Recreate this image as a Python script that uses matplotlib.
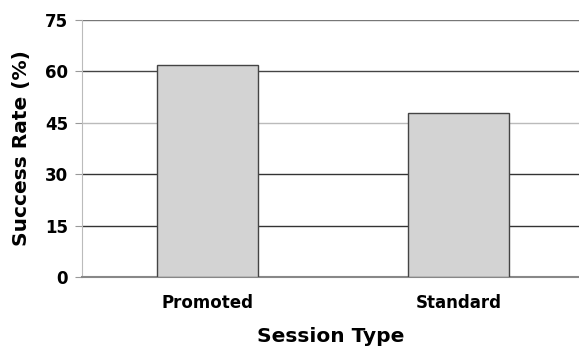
import numpy as np
import matplotlib.pyplot as plt

categories = ['Promoted', 'Standard']
success_rate = [62, 48]
y_ticks = [0, 15, 30, 45, 60, 75]

fig = plt.figure(figsize=(5.79, 3.48), dpi=100)
ax = fig.add_axes([82 / 579, 1 - 277 / 348, 1 - 82 / 579, 257 / 348])

x = np.arange(len(categories))
ax.bar(x, success_rate, width=0.4, color='#d3d3d3', edgecolor='#444444',
       linewidth=1, zorder=3)

ax.set_ylim(0, 75)
ax.set_xlim(-0.5, 1.48)
ax.set_yticks(y_ticks)
ax.set_yticklabels([str(t) for t in y_ticks], fontsize=12, fontweight='bold')
ax.set_xticks(x)
ax.set_xticklabels(categories, fontsize=12, fontweight='bold')
ax.tick_params(axis='x', length=0, pad=12)
ax.tick_params(axis='y', length=5, color='#999999', pad=5)

ax.grid(axis='y', color='#333333', linewidth=1, zorder=0)
# gridline shades as in the reference
grid_colors = ['#333333', '#333333', '#333333', '#bbbbbb', '#444444', '#777777']
for line, c in zip(ax.get_ygridlines(), grid_colors):
    line.set_color(c)
for side in ['top', 'right']:
    ax.spines[side].set_visible(False)
ax.spines['left'].set_color('#bbbbbb')
ax.spines['bottom'].set_color('#888888')
ax.spines['bottom'].set_linewidth(1.5)

ax.set_ylabel('Success Rate (%)', fontsize=14.5, fontweight='bold', labelpad=10)
ax.set_xlabel('Session Type', fontsize=14.5, fontweight='bold')
ax.xaxis.label.set_va('center')
ax.xaxis.set_label_coords(0.5, -0.232)

fig.savefig('out.png', dpi=100)
